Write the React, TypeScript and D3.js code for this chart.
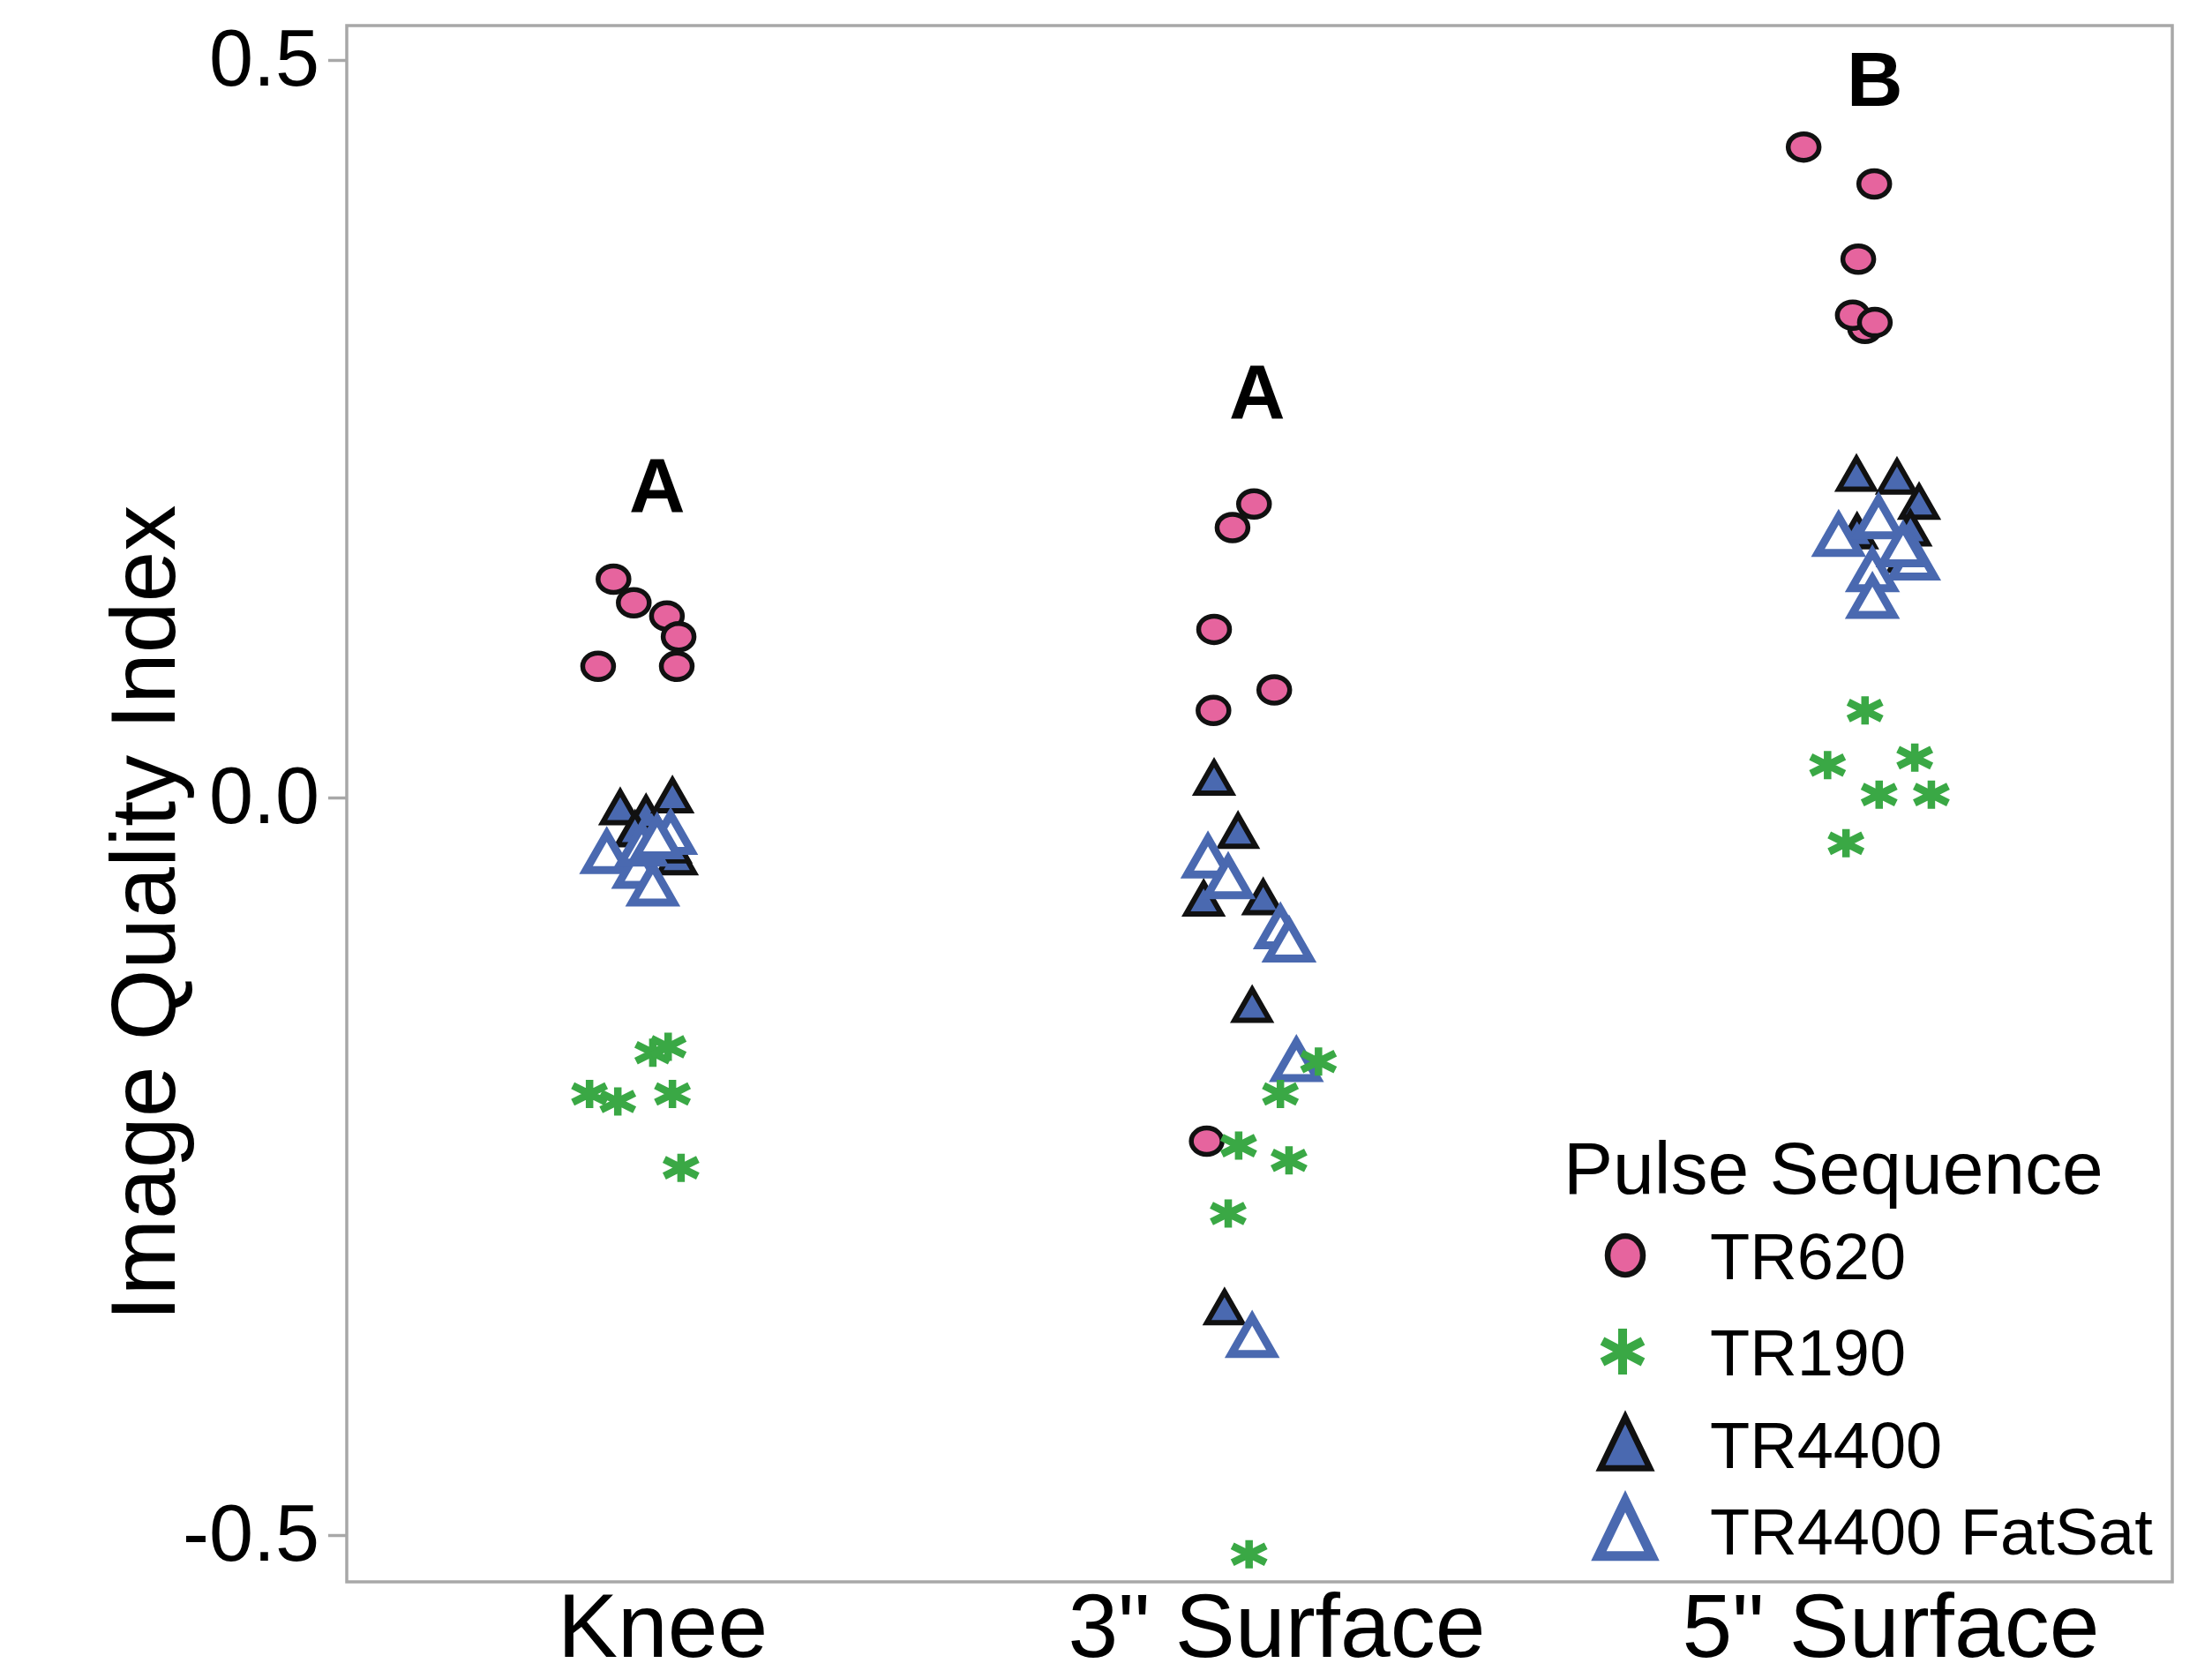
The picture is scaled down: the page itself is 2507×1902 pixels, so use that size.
import React from "react";
import * as d3 from "d3";

// categories on the x axis, tick labels, legend names
const categories = ["Knee", '3" Surface', '5" Surface'];
const yTicks = [0.5, 0.0, -0.5];
const seriesNames = ["TR620", "TR190", "TR4400", "TR4400 FatSat"];

// letters above each group: [category index, jitter, value]
const groupLetters = ["A", "A", "B"];
const letterValues = [0.194, 0.257, 0.469];
const letterJitter = [-0.009, -0.032, -0.026];

// points: [category index, jitter (fraction of category step), value]
type Pt = [number, number, number];

const tr620: Pt[] = [
  [0, -0.08, 0.148], [0, -0.047, 0.132], [0, 0.007, 0.123],
  [0, 0.026, 0.109], [0, -0.105, 0.089], [0, 0.023, 0.089],
  [1, -0.037, 0.199], [1, -0.072, 0.183], [1, -0.102, 0.114],
  [1, -0.004, 0.073], [1, -0.103, 0.059], [1, -0.114, -0.233],
  [2, -0.142, 0.441], [2, -0.027, 0.416], [2, -0.053, 0.365],
  [2, -0.042, 0.318], [2, -0.062, 0.327], [2, -0.026, 0.322],
];

const tr4400: Pt[] = [
  [0, -0.069, -0.01], [0, -0.027, -0.014], [0, 0.016, -0.002],
  [0, 0.023, -0.044], [0, 0.013, -0.036], [0, -0.045, -0.025],
  [1, -0.102, 0.01], [1, -0.063, -0.026], [1, -0.119, -0.072],
  [1, -0.022, -0.071], [1, -0.04, -0.144], [1, -0.085, -0.349],
  [2, -0.056, 0.216], [2, 0.01, 0.214], [2, 0.046, 0.197],
  [2, 0.032, 0.179], [2, -0.055, 0.177], [2, 0.027, 0.161],
];

const tr4400FatSat: Pt[] = [
  [0, -0.091, -0.041], [0, 0.013, -0.028], [0, -0.039, -0.051],
  [0, -0.016, -0.063], [0, -0.034, -0.036], [0, -0.009, -0.031],
  [1, -0.112, -0.044], [1, -0.079, -0.058], [1, 0.006, -0.092],
  [1, 0.02, -0.101], [1, 0.032, -0.182], [1, -0.04, -0.369],
  [2, -0.085, 0.174], [2, -0.02, 0.186], [2, -0.03, 0.15],
  [2, -0.03, 0.132], [2, 0.037, 0.158], [2, 0.02, 0.167],
];

const tr190: Pt[] = [
  [0, -0.119, -0.201], [0, -0.073, -0.206], [0, -0.016, -0.173],
  [0, 0.009, -0.169], [0, 0.016, -0.201], [0, 0.03, -0.251],
  [1, 0.068, -0.179], [1, 0.006, -0.201], [1, -0.062, -0.236],
  [1, 0.02, -0.246], [1, -0.079, -0.282], [1, -0.045, -0.513],
  [2, -0.042, 0.059], [2, -0.103, 0.022], [2, 0.039, 0.027],
  [2, -0.019, 0.002], [2, 0.066, 0.002], [2, -0.073, -0.031],
];

const PINK = "#e6649e";
const GREEN = "#3aa845";
const BLUE = "#4a69b0";
const FRAME = "#a8a8a8";
const FONT = "'Liberation Sans', Arial, sans-serif";

function trianglePath(w: number, h: number) {
  const p = d3.path();
  p.moveTo(0, (-2 * h) / 3);
  p.lineTo(w / 2, h / 3);
  p.lineTo(-w / 2, h / 3);
  p.closePath();
  return p.toString();
}

function asteriskPath(a: number, b: number, c: number) {
  const p = d3.path();
  p.moveTo(0, -a);
  p.lineTo(0, a);
  p.moveTo(-b, -c);
  p.lineTo(b, c);
  p.moveTo(-b, c);
  p.lineTo(b, -c);
  return p.toString();
}

const App: React.FC = () => {
  const svgRef = React.useRef<SVGSVGElement>(null);
  const width = 2507;
  const height = 1902;
  const frame = { left: 393, top: 29, right: 2462, bottom: 1793 };

  React.useEffect(() => {
    document.body.style.margin = "0";
    const svgEl = d3.select(svgRef.current);
    svgEl.selectAll("*").remove();

    svgEl
      .append("rect")
      .attr("width", width)
      .attr("height", height)
      .attr("fill", "white");

    const xScale = d3
      .scalePoint<string>()
      .domain(categories)
      .range([751, 2143]);
    const step = xScale.step();
    const yScale = d3.scaleLinear().domain([0.5, -0.5]).range([68, 1740]);

    const px = (d: Pt) => xScale(categories[d[0]])! + d[1] * step;
    const py = (d: Pt) => yScale(d[2]);

    // frame
    svgEl
      .append("rect")
      .attr("x", frame.left)
      .attr("y", frame.top)
      .attr("width", frame.right - frame.left)
      .attr("height", frame.bottom - frame.top)
      .attr("fill", "none")
      .attr("stroke", FRAME)
      .attr("stroke-width", 3.5);

    // y axis
    const yAxis = d3
      .axisLeft(yScale)
      .tickValues(yTicks)
      .tickSize(21)
      .tickPadding(10)
      .tickFormat((d) => (d as number).toFixed(1));
    const yAxisGroup = svgEl
      .append("g")
      .attr("transform", `translate(${frame.left},0)`)
      .call(yAxis);
    yAxisGroup.select(".domain").remove();
    yAxisGroup
      .selectAll("line")
      .attr("stroke", FRAME)
      .attr("stroke-width", 3.5);
    yAxisGroup
      .selectAll("text")
      .attr("font-family", FONT)
      .attr("font-size", 90)
      .attr("fill", "black");

    // x labels
    svgEl
      .append("g")
      .selectAll("text")
      .data(categories)
      .join("text")
      .attr("x", (d) => xScale(d)!)
      .attr("y", 1878)
      .attr("text-anchor", "middle")
      .attr("font-family", FONT)
      .attr("font-size", 102)
      .attr("fill", "black")
      .text((d) => d);

    // y title
    svgEl
      .append("text")
      .attr("transform", "translate(198,1035) rotate(-90)")
      .attr("text-anchor", "middle")
      .attr("font-family", FONT)
      .attr("font-size", 104)
      .attr("fill", "black")
      .text("Image Quality Index");

    // group letters
    svgEl
      .append("g")
      .selectAll("text")
      .data(groupLetters)
      .join("text")
      .attr("x", (d, i) => xScale(categories[i])! + letterJitter[i] * step)
      .attr("y", (d, i) => yScale(letterValues[i]))
      .attr("text-anchor", "middle")
      .attr("font-family", FONT)
      .attr("font-weight", "bold")
      .attr("font-size", 88)
      .attr("fill", "black")
      .text((d) => d);

    const marks = svgEl.append("g");

    // TR620 circles
    marks
      .append("g")
      .selectAll("ellipse")
      .data(tr620)
      .join("ellipse")
      .attr("cx", px)
      .attr("cy", py)
      .attr("rx", 17.5)
      .attr("ry", 15)
      .attr("fill", PINK)
      .attr("stroke", "#111")
      .attr("stroke-width", 5.5);

    // TR4400 filled triangles
    const triFilled = trianglePath(40, 35);
    marks
      .append("g")
      .selectAll("path")
      .data(tr4400)
      .join("path")
      .attr("transform", (d) => `translate(${px(d)},${py(d)})`)
      .attr("d", triFilled)
      .attr("fill", BLUE)
      .attr("stroke", "#111")
      .attr("stroke-width", 6)
      .attr("stroke-linejoin", "miter");

    // TR4400 FatSat open triangles
    const triOpen = trianglePath(47, 41);
    marks
      .append("g")
      .selectAll("path")
      .data(tr4400FatSat)
      .join("path")
      .attr("transform", (d) => `translate(${px(d)},${py(d)})`)
      .attr("d", triOpen)
      .attr("fill", "white")
      .attr("stroke", BLUE)
      .attr("stroke-width", 9)
      .attr("stroke-linejoin", "miter");

    // TR190 asterisks
    const star = asteriskPath(16, 19, 9.5);
    marks
      .append("g")
      .selectAll("path")
      .data(tr190)
      .join("path")
      .attr("transform", (d) => `translate(${px(d)},${py(d)})`)
      .attr("d", star)
      .attr("fill", "none")
      .attr("stroke", GREEN)
      .attr("stroke-width", 8.5);

    // legend
    const legend = svgEl.append("g");
    legend
      .append("text")
      .attr("x", 1772)
      .attr("y", 1353)
      .attr("font-family", FONT)
      .attr("font-size", 84)
      .attr("fill", "black")
      .text("Pulse Sequence");

    const legendY = [1423, 1532, 1637, 1735];
    const legendX = 1842;
    legend
      .selectAll("text.item")
      .data(seriesNames)
      .join("text")
      .attr("class", "item")
      .attr("x", 1938)
      .attr("y", (d, i) => legendY[i])
      .attr("dy", "0.36em")
      .attr("font-family", FONT)
      .attr("font-size", 74)
      .attr("fill", "black")
      .text((d) => d);

    legend
      .append("ellipse")
      .attr("cx", legendX)
      .attr("cy", legendY[0])
      .attr("rx", 20)
      .attr("ry", 22)
      .attr("fill", PINK)
      .attr("stroke", "#111")
      .attr("stroke-width", 6.5);
    legend
      .append("path")
      .attr("transform", `translate(${legendX - 3},${legendY[1]})`)
      .attr("d", asteriskPath(26, 23, 12))
      .attr("fill", "none")
      .attr("stroke", GREEN)
      .attr("stroke-width", 10);
    legend
      .append("path")
      .attr("transform", `translate(${legendX},${legendY[2] + 8})`)
      .attr("d", trianglePath(56, 58))
      .attr("fill", BLUE)
      .attr("stroke", "#111")
      .attr("stroke-width", 7);
    legend
      .append("path")
      .attr("transform", `translate(${legendX},${legendY[3] + 8})`)
      .attr("d", trianglePath(60, 62))
      .attr("fill", "white")
      .attr("stroke", BLUE)
      .attr("stroke-width", 11);
  }, []);

  return (
    <svg
      ref={svgRef}
      width={width}
      height={height}
      style={{ display: "block", position: "absolute", left: 0, top: 0 }}
    />
  );
};

export default App;
